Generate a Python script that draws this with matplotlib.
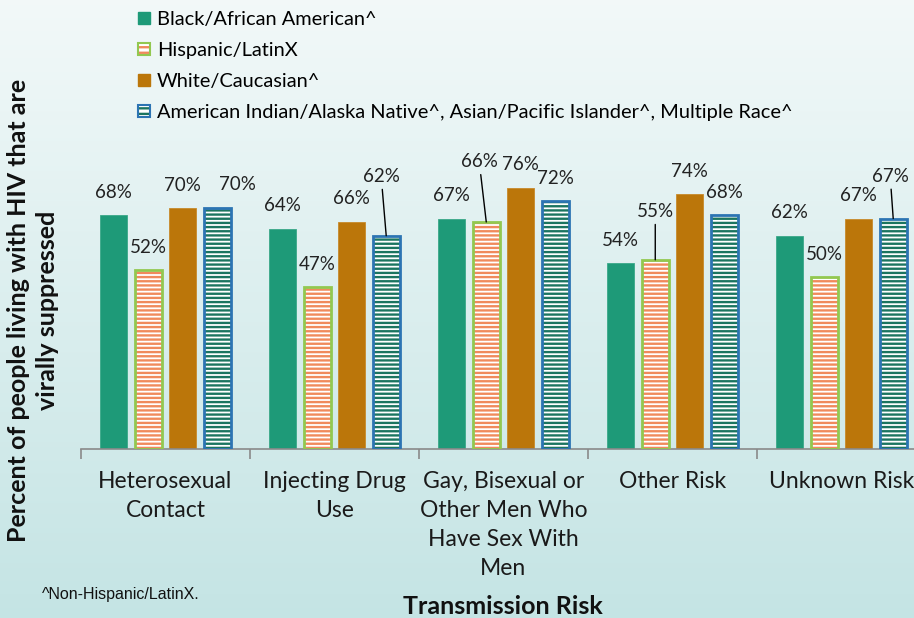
import numpy as np
import matplotlib
matplotlib.use("Agg")
import matplotlib.pyplot as plt
from matplotlib.patches import Patch

# data
categories = ["Heterosexual\nContact", "Injecting Drug\nUse",
              "Gay, Bisexual or\nOther Men Who\nHave Sex With\nMen",
              "Other Risk", "Unknown Risk"]
series_names = ["Black/African American^", "Hispanic/LatinX", "White/Caucasian^",
                "American Indian/Alaska Native^, Asian/Pacific Islander^, Multiple Race^"]
black = [68, 64, 67, 54, 62]
hispanic = [52, 47, 66, 55, 50]
white = [70, 66, 76, 74, 67]
other_race = [70, 62, 72, 68, 67]

plt.rcParams['font.family'] = ['Lato', 'DejaVu Sans']
plt.rcParams['hatch.linewidth'] = 1.7

W, H = 914, 618
fig = plt.figure(figsize=(W / 100, H / 100), dpi=100)

# background gradient
bg = fig.add_axes([0, 0, 1, 1], zorder=0)
grad = np.linspace(0, 1, 256).reshape(-1, 1)
top = np.array([0.95, 0.975, 0.975])
bot = np.array([0.77, 0.895, 0.895])
img = top + (bot - top) * grad[..., None]
bg.imshow(img, aspect='auto', extent=[0, 1, 0, 1])
bg.set_axis_off()

# main axes: left edge 81px, baseline 449px, group width 169px
ax = fig.add_axes([81 / W, 169 / H, 845 / W, 344 / H], zorder=1)
ax.set_facecolor('none')

x = np.arange(len(categories))
bw = 0.16
step = 0.204
offs = [-1.5 * step, -0.5 * step, 0.5 * step, 1.5 * step]

green = '#1e9a78'
brown = '#bb760a'
salmon = '#f08a5c'
lime = '#92c850'
stripe_green = '#1b7560'
blue_edge = '#2c74b3'

ax.bar(x + offs[0], black, bw, color=green, edgecolor='#3aa888', lw=0.6, zorder=2)
ax.bar(x + offs[1], hispanic, bw, color='white', edgecolor=salmon,
       hatch='----', lw=0, zorder=2)
ax.bar(x + offs[1], hispanic, bw, color='none', edgecolor=lime, lw=2, zorder=3)
ax.bar(x + offs[2], white, bw, color=brown, edgecolor='#c88a2a', lw=0.6, zorder=2)
ax.bar(x + offs[3], other_race, bw, color='white', edgecolor=stripe_green,
       hatch='----', lw=0, zorder=2)
ax.bar(x + offs[3], other_race, bw, color='none', edgecolor=blue_edge, lw=2, zorder=3)

# label offsets in pixels (dx, dy) from bar top centre; leader lines where set
default_off = (0, 23)
special = {
    (0, 3): (20, 24, False),
    (1, 3): (-5, 59, True),
    (2, 1): (-7, 60, True),
    (3, 1): (0, 48, True),
    (4, 3): (-3, 42, True),
}
all_vals = [black, hispanic, white, other_race]
for s, vals in enumerate(all_vals):
    for g, v in enumerate(vals):
        dx, dy, lead = special.get((g, s), (*default_off, False))
        kw = {}
        if lead:
            kw['arrowprops'] = dict(arrowstyle='-', color='black', lw=1,
                                    shrinkA=1, shrinkB=0)
        ax.annotate(f"{v}%", (x[g] + offs[s], v), xytext=(dx * 0.72, dy * 0.72),
                    textcoords='offset points', ha='center', va='center',
                    fontsize=13.5, color='#222222', zorder=5, **kw)

ax.set_xlim(-0.5, 4.5)
ax.set_ylim(0, 100)
ax.set_yticks([])
for sp in ['left', 'right', 'top']:
    ax.spines[sp].set_visible(False)
ax.spines['bottom'].set_color('#8a8a8a')
ax.spines['bottom'].set_linewidth(1.2)
ax.set_xticks(x)
ax.set_xticklabels(categories, fontsize=16.5, color='#1a1a1a', linespacing=1.47)
ax.tick_params(axis='x', which='major', length=0, pad=16)
ax.set_xticks(np.arange(-0.5, 5, 1), minor=True)
ax.tick_params(axis='x', which='minor', length=7, width=1.2, color='#8a8a8a')

# axis titles
fig.text(503 / W, 1 - 606 / H, "Transmission Risk", ha='center', va='center',
         fontsize=18, fontweight='bold', color='#111111')
fig.text(33 / W, 1 - 310 / H, "Percent of people living with HIV that are\nvirally suppressed",
         ha='center', va='center', rotation=90, fontsize=18, fontweight='bold',
         color='#111111', linespacing=1.3)
fig.text(42 / W, 1 - 595 / H, "^Non-Hispanic/LatinX.", ha='left', va='center',
         fontsize=11.5, family='Liberation Sans', color='#111111')

# legend
h_black = Patch(facecolor=green, edgecolor=green)
h_hisp = (Patch(facecolor='white', edgecolor=salmon, hatch='---', lw=0),
          Patch(facecolor='none', edgecolor=lime, lw=1.5))
h_white = Patch(facecolor=brown, edgecolor=brown)
h_other = (Patch(facecolor='white', edgecolor=stripe_green, hatch='---', lw=0),
           Patch(facecolor='none', edgecolor=blue_edge, lw=1.5))
fig.legend([h_black, h_hisp, h_white, h_other], series_names,
           loc='upper left', bbox_to_anchor=(134 / W, 1 - 7 / H), frameon=False,
           fontsize=14.4, handlelength=0.6, handleheight=0.6, handletextpad=0.35,
           labelspacing=0.7, borderaxespad=0, borderpad=0.2)

fig.savefig("out.png", dpi=100)
